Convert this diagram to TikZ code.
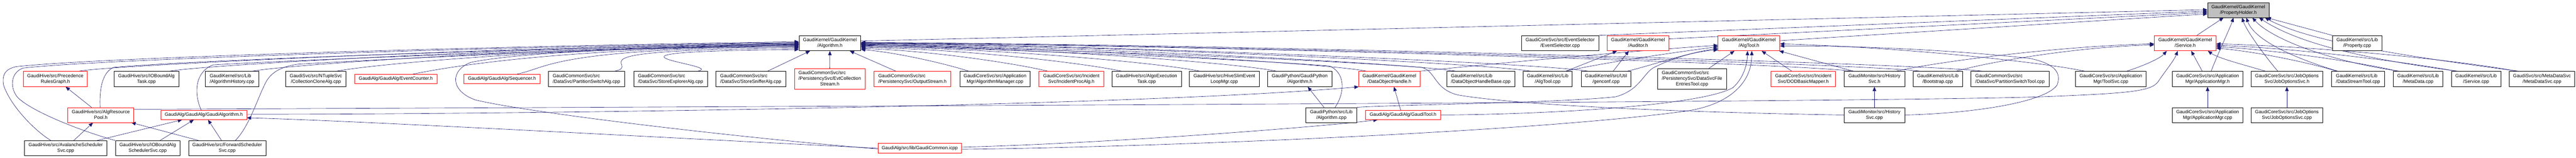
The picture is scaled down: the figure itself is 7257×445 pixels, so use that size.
\documentclass[tikz,border=0pt]{standalone}
\usepackage{fontspec}
\setmainfont{Liberation Sans}
\usetikzlibrary{arrows.meta,calc}
\definecolor{ec}{HTML}{191970}
\definecolor{gfill}{HTML}{BFBFBF}
\pgfdeclarelayer{bg}
\pgfsetlayers{bg,main}
\newcommand\two[2]{\begin{tabular}{@{}l@{}}#1\\\multicolumn{1}{@{}c@{}}{#2}\end{tabular}}
\newcommand\three[3]{\begin{tabular}{@{}l@{}}#1\\#2\\\multicolumn{1}{@{}c@{}}{#3}\end{tabular}}
\newcommand\bx[7]{\node[bx,draw=#2,minimum width=#5pt,minimum height=#6pt] (#1) at (#3,#4) {#7};}
\newcommand\lb[2]{\draw[e] (#1) .. controls +(90,-18) and +(-700,6) .. ($(alg.west)+(0,#2)$);}
\newcommand\rb[4]{\draw[e] (#1) .. controls +#3 and +#4 .. ($(alg.east)+(0,#2)$);}
\begin{document}
\begin{tikzpicture}[x=1pt,y=-1pt,
  bx/.style={rectangle,inner sep=0pt,line width=1pt,fill=white,text=black,font=\fontsize{13.3}{16}\selectfont},
  e/.style={draw=ec,line width=0.9pt,-{Triangle[length=12pt,width=10pt]}}]
\useasboundingbox (0,0) rectangle (7257,445);
% row 1
\node[bx,draw=black,fill=gfill,minimum width=173pt,minimum height=42pt] (ph) at (6305.5,28.3) {\two{GaudiKernel/GaudiKernel}{/PropertyHolder.h}};
% row 2
\bx{alg}{black}{2338}{121.7}{174}{43}{\two{GaudiKernel/GaudiKernel}{/Algorithm.h}}
\bx{evsel}{black}{4395}{121.7}{218}{43}{\two{GaudiCoreSvc/src/EventSelector}{/EventSelector.cpp}}
\bx{aud}{red}{4614.5}{121.7}{173}{43}{\two{GaudiKernel/GaudiKernel}{/Auditor.h}}
\bx{algtool}{red}{4927}{121.7}{174}{43}{\two{GaudiKernel/GaudiKernel}{/AlgTool.h}}
\bx{svc}{red}{6156}{121.7}{174}{43}{\two{GaudiKernel/GaudiKernel}{/Service.h}}
\bx{propcpp}{black}{6640.5}{121.7}{139}{43}{\two{GaudiKernel/src/Lib}{/Property.cpp}}
% row 3
\bx{prg}{red}{156}{222.8}{180}{43}{\two{GaudiHive/src/Precedence}{RulesGraph.h}}
\bx{iobt}{black}{412.5}{222.8}{183}{43}{\two{GaudiHive/src/IOBoundAlg}{Task.cpp}}
\bx{ahist}{black}{653.5}{222.8}{151}{43}{\two{GaudiKernel/src/Lib}{/AlgorithmHistory.cpp}}
\bx{ccalg}{black}{890}{222.8}{170}{43}{\two{GaudiSvc/src/NTupleSvc}{/CollectionCloneAlg.cpp}}
\bx{evc}{red}{1115}{222.8}{232}{27}{GaudiAlg/GaudiAlg/EventCounter.h}
\bx{seq}{red}{1414}{222.8}{214}{27}{GaudiAlg/GaudiAlg/Sequencer.h}
\bx{psalg}{black}{1652}{222.8}{214}{43}{\two{GaudiCommonSvc/src}{/DataSvc/PartitionSwitchAlg.cpp}}
\bx{sexp}{black}{1889}{222.8}{208}{43}{\two{GaudiCommonSvc/src}{/DataSvc/StoreExplorerAlg.cpp}}
\bx{ssniff}{black}{2115}{222.8}{198}{43}{\two{GaudiCommonSvc/src}{/DataSvc/StoreSnifferAlg.cpp}}
\bx{ecs}{red}{2337.5}{222.8}{199}{59}{\three{GaudiCommonSvc/src}{/PersistencySvc/EvtCollection}{Stream.h}}
\bx{ostream}{red}{2570.5}{222.8}{217}{43}{\two{GaudiCommonSvc/src}{/PersistencySvc/OutputStream.h}}
\bx{amgr}{black}{2803}{222.8}{198}{43}{\two{GaudiCoreSvc/src/Application}{Mgr/AlgorithmManager.cpp}}
\bx{ipa}{red}{3018}{222.8}{182}{43}{\two{GaudiCoreSvc/src/Incident}{Svc/IncidentProcAlg.h}}
\bx{aet}{black}{3230}{222.8}{196}{43}{\two{GaudiHive/src/AlgoExecution}{Task.cpp}}
\bx{hsel}{black}{3449}{222.8}{196}{43}{\two{GaudiHive/src/HiveSlimEvent}{LoopMgr.cpp}}
\bx{gpyh}{black}{3661.5}{222.8}{181}{43}{\two{GaudiPython/GaudiPython}{/Algorithm.h}}
\bx{doh}{red}{3914}{222.8}{172}{43}{\two{GaudiKernel/GaudiKernel}{/DataObjectHandle.h}}
\bx{dohb}{black}{4171.5}{222.8}{191}{43}{\two{GaudiKernel/src/Lib}{/DataObjectHandleBase.cpp}}
\bx{atcpp}{black}{4360}{222.8}{138}{43}{\two{GaudiKernel/src/Lib}{/AlgTool.cpp}}
\bx{genconf}{black}{4524.5}{222.8}{139}{43}{\two{GaudiKernel/src/Util}{/genconf.cpp}}
\bx{dsfe}{black}{4766.5}{222.8}{195}{59}{\three{GaudiCommonSvc/src}{/PersistencySvc/DataSvcFile}{EntriesTool.cpp}}
\bx{dod}{red}{5080}{222.8}{182}{43}{\two{GaudiCoreSvc/src/Incident}{Svc/DODBasicMapper.h}}
\bx{hsh}{black}{5280.5}{222.8}{171}{43}{\two{GaudiMonitor/src/History}{Svc.h}}
\bx{boot}{black}{5459}{222.8}{140}{43}{\two{GaudiKernel/src/Lib}{/Bootstrap.cpp}}
\bx{pstool}{black}{5662.5}{222.8}{221}{43}{\two{GaudiCommonSvc/src}{/DataSvc/PartitionSwitchTool.cpp}}
\bx{toolsvc}{black}{5946.5}{222.8}{199}{43}{\two{GaudiCoreSvc/src/Application}{Mgr/ToolSvc.cpp}}
\bx{appmgrh}{black}{6219}{222.8}{200}{43}{\two{GaudiCoreSvc/src/Application}{Mgr/ApplicationMgr.h}}
\bx{josh}{black}{6442.5}{222.8}{201}{43}{\two{GaudiCoreSvc/src/JobOptions}{Svc/JobOptionsSvc.h}}
\bx{dst}{black}{6643}{222.8}{150}{43}{\two{GaudiKernel/src/Lib}{/DataStreamTool.cpp}}
\bx{mdcpp}{black}{6812}{222.8}{140}{43}{\two{GaudiKernel/src/Lib}{/MetaData.cpp}}
\bx{svccpp}{black}{6975.5}{222.8}{139}{43}{\two{GaudiKernel/src/Lib}{/Service.cpp}}
\bx{mds}{black}{7161}{222.8}{184}{43}{\two{GaudiSvc/src/MetaDataSvc}{/MetaDataSvc.cpp}}
% row 4
\bx{arp}{red}{284}{324.3}{186}{42}{\two{GaudiHive/src/AlgResource}{Pool.h}}
\bx{galg}{red}{574}{324.3}{242}{26}{GaudiAlg/GaudiAlg/GaudiAlgorithm.h}
\bx{gpycpp}{black}{3750.5}{324.3}{143}{42}{\two{GaudiPython/src/Lib}{/Algorithm.cpp}}
\bx{gtool}{red}{3952.5}{324.3}{211}{26}{GaudiAlg/GaudiAlg/GaudiTool.h}
\bx{hscpp}{black}{5280.5}{324.3}{171}{42}{\two{GaudiMonitor/src/History}{Svc.cpp}}
\bx{appmgrcpp}{black}{6219}{324.3}{200}{42}{\two{GaudiCoreSvc/src/Application}{Mgr/ApplicationMgr.cpp}}
\bx{joscpp}{black}{6442.5}{324.3}{201}{42}{\two{GaudiCoreSvc/src/JobOptions}{Svc/JobOptionsSvc.cpp}}
% row 5
\bx{ava}{black}{185}{418}{232}{43}{\two{GaudiHive/src/AvalancheScheduler}{Svc.cpp}}
\bx{iobs}{black}{416}{418}{182}{43}{\two{GaudiHive/src/IOBoundAlg}{SchedulerSvc.cpp}}
\bx{fwd}{black}{640}{418}{218}{43}{\two{GaudiHive/src/ForwardScheduler}{Svc.cpp}}
\bx{gcom}{red}{2591}{418}{236}{27}{GaudiAlg/src/lib/GaudiCommon.icpp}

\begin{pgfonlayer}{bg}
% ---- to PropertyHolder.h
\draw[e] ($(alg.east)+(0,-6)$) -- ($(ph.west)+(0,-1)$);
\draw[e] (evsel.north east) -- ($(ph.west)+(0,3)$);
\draw[e] ($(aud.east)+(0,-12)$) -- ($(ph.west)+(0,7)$);
\draw[e] ($(algtool.east)+(0,-7)$) -- ($(ph.west)+(0,11)$);
\draw[e] ($(svc.north)+(33,0)$) -- ($(ph.south)+(-41.5,0)$);
\draw[e] ($(appmgrh.north)+(10,0)$) .. controls +(15,-40) and +(-8,25) .. ($(ph.south)+(-13.5,0)$);
\draw[e] ($(josh.north)+(-25.5,0)$) .. controls (6390,170) and (6330,90) .. ($(ph.south)+(10.5,0)$);
\draw[e] ($(dst.north)+(-57,0)$) .. controls (6450,160) and (6350,110) .. ($(ph.south)+(22.5,0)$);
\draw[e] (propcpp.north west) -- ($(ph.south)+(80,0)$);
\draw[e] ($(mdcpp.north)+(-53,0)$) .. controls (6560,172) and (6400,110) .. ($(ph.south)+(39.5,0)$);
\draw[e] ($(svccpp.north)+(-51.5,0)$) .. controls (6650,165) and (6470,120) .. ($(ph.south)+(58.5,0)$);
\draw[e] ($(mds.north)+(-66,0)$) .. controls (6750,155) and (6500,115) .. ($(ph.south)+(75,0)$);
% ---- to Service.h
\draw[e] ($(appmgrh.north)+(-15,0)$) -- ($(svc.south)+(17,0)$);
\draw[e] ($(josh.north)+(-60.5,0)$) .. controls (6330,185) and (6250,165) .. ($(svc.south)+(64,0)$);
\draw[e] ($(toolsvc.north)+(44.5,0)$) .. controls (6040,185) and (6085,165) .. ($(svc.south)+(-52,0)$);
\draw[e] ($(arp.east)+(0,-16)$) .. controls (3000,297) and (5300,287) .. (5750,273) .. controls (6000,263) and (6060,258) .. (6080,230) .. controls (6100,200) and (6125,170) .. ($(svc.south)+(-21,0)$);
\draw[e] ($(hsh.north)+(61.5,0)$) .. controls (5450,175) and (5800,130) .. ($(svc.west)+(0,2)$);
\draw[e] ($(boot.north)+(52,0)$) .. controls (5600,175) and (5850,132) .. ($(svc.west)+(0,5)$);
\draw[e] ($(dst.north)+(-60,0)$) .. controls (6500,175) and (6350,145) .. ($(svc.east)+(0,14)$);
\draw[e] ($(mdcpp.north)+(-58,0)$) .. controls (6650,175) and (6400,140) .. ($(svc.east)+(0,10)$);
\draw[e] ($(svccpp.north)+(-56,0)$) .. controls (6750,170) and (6450,135) .. ($(svc.east)+(0,6)$);
\draw[e] ($(mds.north)+(-71,0)$) .. controls (6900,165) and (6500,130) .. ($(svc.east)+(0,2)$);
% ---- to Algorithm.h from the left
\lb{$(prg.north)+(66,0)$}{0}
\lb{$(iobt.north)+(65.5,0)$}{2}
\lb{$(ahist.north)+(57.5,0)$}{4}
\lb{$(ccalg.north)+(58,0)$}{6}
\lb{$(evc.north)+(49,0)$}{8}
\lb{$(seq.north)+(43,0)$}{10}
\lb{$(psalg.north)+(79,0)$}{14}
\lb{$(sexp.north)+(76,0)$}{18}
\draw[e] ($(ava.north)+(-42,0)$) .. controls (100,370) and (30,300) .. (10,240) .. controls (5,210) and (15,195) .. (45,188) .. controls (300,160) and (1500,128) .. ($(alg.west)+(0,-4)$);
\draw[e] ($(iobs.north)+(-92,0)$) .. controls (230,370) and (90,315) .. (50,275) .. controls (28,250) and (28,205) .. (65,192) .. controls (300,165) and (1500,130) .. ($(alg.west)+(0,-2)$);
\draw[e] ($(fwd.north)+(23,0)$) .. controls (700,360) and (725,280) .. (745,240) .. controls (760,205) and (790,188) .. (840,181) .. controls (1200,160) and (1800,134) .. ($(alg.west)+(0,5)$);
\draw[e] ($(galg.north)+(-7,0)$) .. controls (548,270) and (545,205) .. (600,183) .. controls (900,165) and (1800,134) .. ($(alg.west)+(0,3)$);
\draw[e] ($(arp.north)+(-2,0)$) .. controls (280,260) and (285,205) .. (320,190) .. controls (600,165) and (1700,132) .. ($(alg.west)+(0,1)$);
\draw[e] ($(gcom.west)+(0,2)$) .. controls (2100,390) and (1500,320) .. (1340,282) .. controls (1270,258) and (1265,200) .. (1326,176) .. controls (1500,140) and (2000,130) .. ($(alg.west)+(0,12)$);
% ---- to Algorithm.h from below
\draw[e] (ecs.north) -- (alg.south);
\draw[e] ($(ssniff.north)+(47,0)$) -- ($(alg.south)+(-56,0)$);
\draw[e] ($(ostream.north)+(-46.5,0)$) -- ($(alg.south)+(56,0)$);
% ---- to Algorithm.h from the right
\rb{$(amgr.north)+(-74,0)$}{18}{(-60,-20)}{(100,8)}
\rb{$(ipa.north)+(-66,0)$}{15}{(-80,-20)}{(200,6)}
\rb{$(aet.north)+(-70,0)$}{12}{(-100,-22)}{(300,5)}
\rb{$(hsel.north)+(-69,0)$}{10}{(-100,-22)}{(400,5)}
\rb{$(gpyh.north)+(-65.5,0)$}{8}{(-100,-22)}{(500,4)}
\rb{$(doh.north)+(-64,0)$}{5}{(-100,-22)}{(500,4)}
\rb{$(dohb.north)+(-70.5,0)$}{4}{(-120,-22)}{(600,4)}
\rb{$(atcpp.north)+(-48,0)$}{2}{(-120,-22)}{(700,4)}
\rb{$(genconf.north)+(-50.5,0)$}{1}{(-120,-22)}{(700,4)}
\rb{$(hsh.north)+(-62.5,0)$}{0}{(-150,-22)}{(900,4)}
\rb{$(boot.north)+(-50,0)$}{-1}{(-150,-22)}{(900,4)}
\rb{$(pstool.north)+(-78.5,0)$}{-2}{(-150,-22)}{(1000,4)}
\draw[e] ($(gpycpp.north)+(10.5,0)$) .. controls (3790,260) and (3790,205) .. (3745,186) .. controls (3400,160) and (2800,140) .. ($(alg.east)+(0,6)$);
\draw[e] (hscpp.west) .. controls (4800,318) and (4300,300) .. (4108,268) .. controls (4040,252) and (4045,200) .. (4005,190) .. controls (3600,160) and (2900,140) .. ($(alg.east)+(0,3)$);
% ---- to AlgTool.h
\draw[e] ($(dsfe.north)+(47.5,0)$) -- ($(algtool.south)+(-41,0)$);
\draw[e] (gtool.east) .. controls (4400,322) and (4800,295) .. (4882,247) .. controls (4910,222) and (4922,185) .. ($(algtool.south)+(-4,0)$);
\draw[e] ($(gcom.east)+(0,3)$) .. controls (3200,416) and (4300,375) .. (4752,313) .. controls (4870,295) and (4935,235) .. ($(algtool.south)+(8,0)$);
\draw[e] ($(dod.north)+(-32,0)$) -- ($(algtool.south)+(36,0)$);
\draw[e] ($(hsh.north)+(-58.5,0)$) -- ($(algtool.south east)+(-2,0)$);
\draw[e] ($(atcpp.north)+(51,0)$) .. controls (4500,180) and (4700,150) .. ($(algtool.west)+(0,10)$);
\draw[e] ($(genconf.north)+(59.5,0)$) .. controls (4650,185) and (4750,150) .. ($(algtool.west)+(0,15)$);
\draw[e] (doh.north east) .. controls (4300,170) and (4650,140) .. ($(algtool.west)+(0,6)$);
\draw[e] (gpycpp.north east) .. controls (3900,296) and (4400,290) .. (4551,273) .. controls (4620,255) and (4630,205) .. (4660,190) .. controls (4720,160) and (4780,145) .. ($(algtool.west)+(0,19)$);
\draw[e] (hscpp.east) .. controls (5550,320) and (5760,290) .. (5795,240) .. controls (5810,200) and (5780,178) .. (5720,165) .. controls (5500,140) and (5200,128) .. ($(algtool.east)+(0,8)$);
\draw[e] ($(toolsvc.north)+(-73.5,0)$) .. controls (5780,180) and (5400,135) .. ($(algtool.east)+(0,2)$);
% ---- to Auditor.h
\draw[e] ($(atcpp.north)+(51,0)$) -- ($(aud.south)+(-59,0)$);
\draw[e] ($(genconf.north)+(20,0)$) -- ($(aud.south)+(-26,0)$);
% ---- others
\draw[e] ($(gpycpp.north)+(-20.5,0)$) -- ($(gpyh.south)+(22.5,0)$);
\draw[e] ($(gtool.north)+(-6.5,0)$) -- ($(doh.south)+(13,0)$);
\draw[e] ($(galg.east)+(0,-2)$) .. controls (1500,322) and (3200,300) .. (doh.south west);
\draw[e] ($(arp.north)+(-26,0)$) -- ($(prg.south)+(29,0)$);
\draw[e] ($(ava.north)+(23,0)$) -- ($(arp.south)+(-22,0)$);
\draw[e] ($(fwd.north)+(-81,0)$) -- ($(arp.south)+(86,0)$);
\draw[e] ($(ava.north)+(89,0)$) -- ($(galg.south)+(-61,0)$);
\draw[e] ($(iobs.north)+(35,0)$) -- ($(galg.south)+(-28,0)$);
\draw[e] ($(fwd.north)+(-16,0)$) -- ($(galg.south)+(12,0)$);
\draw[e] (gcom.west) .. controls (2000,395) and (1000,340) .. ($(galg.east)+(0,8)$);
\draw[e] ($(gcom.east)+(0,-3)$) .. controls (3100,405) and (3700,360) .. ($(gtool.south)+(-71.5,0)$);
\draw[e] (hscpp.north) -- (hsh.south);
\draw[e] (appmgrcpp.north) -- (appmgrh.south);
\draw[e] (joscpp.north) -- (josh.south);
\end{pgfonlayer}
\end{tikzpicture}
\end{document}
